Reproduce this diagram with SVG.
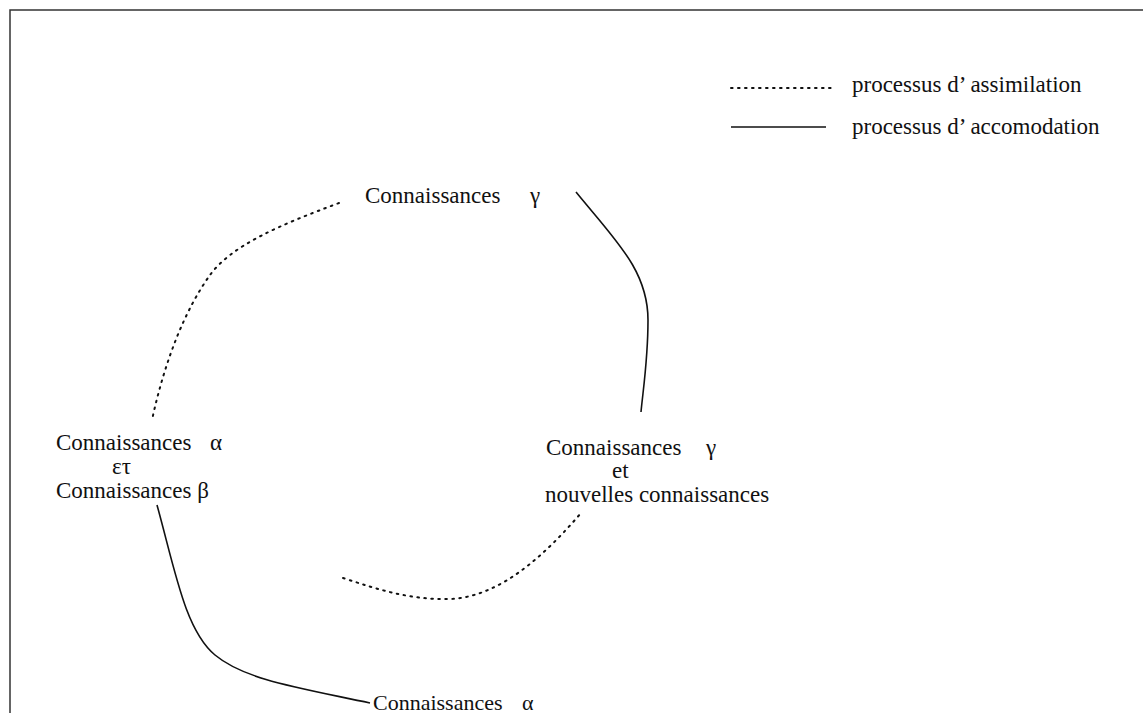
<svg xmlns="http://www.w3.org/2000/svg" width="1143" height="713" viewBox="0 0 1143 713">
<style>
text{font-family:"Liberation Serif","Times New Roman","DejaVu Serif",serif;font-size:23px;fill:#111}
.sol{fill:none;stroke:#111;stroke-width:1.6}
.dot{fill:none;stroke:#111;stroke-width:2;stroke-dasharray:1.6 5.4;stroke-linecap:round}
</style>
<rect width="1143" height="713" fill="#fff"/>
<path d="M10,713 V10 H1143" fill="none" stroke="#333" stroke-width="1.5"/>
<g id="legend">
<line class="dot" x1="731" y1="88" x2="834" y2="88"/>
<text x="852" y="92">processus d’ assimilation</text>
<line class="sol" x1="731" y1="127" x2="826" y2="127"/>
<text x="852" y="134">processus d’ accomodation</text>
</g>
<g id="node-gamma">
<text x="365" y="203">Connaissances</text>
<text x="530" y="203">γ</text>
</g>
<g id="node-alpha-beta">
<text x="56" y="450">Connaissances</text>
<text x="210" y="450">α</text>
<text x="112" y="474">ετ</text>
<text x="56" y="498">Connaissances β</text>
</g>
<g id="node-gamma-new">
<text x="546" y="455">Connaissances</text>
<text x="706" y="455">γ</text>
<text x="612" y="478">et</text>
<text x="545" y="502">nouvelles connaissances</text>
</g>
<g id="node-alpha">
<text x="373" y="710" style="font-size:22px">Connaissances</text>
<text x="522" y="710" style="font-size:22px">α</text>
</g>
<g id="connectors">
<path class="dot" d="M339,203 C280,225 232,245 210,275 C185,310 165,360 152,420"/>
<path class="sol" d="M576,192 C615,240 648,270 648,320 C648,360 643,390 641,412"/>
<path class="dot" d="M343,578 C380,590 410,600 450,599 C500,597 545,555 581,513"/>
<path class="sol" d="M157,505 C175,570 185,630 215,655 C245,680 300,688 370,703"/>
</g>
</svg>
